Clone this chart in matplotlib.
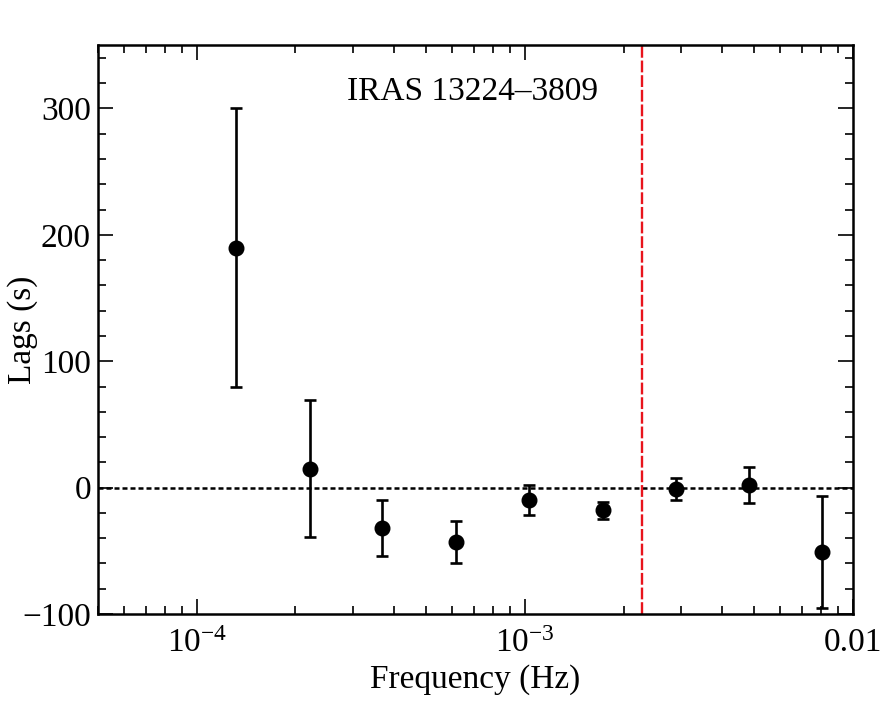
import matplotlib
matplotlib.use("Agg")
import matplotlib.pyplot as plt
from matplotlib.ticker import FixedLocator, FixedFormatter, MultipleLocator, LogLocator, NullFormatter

freq = [1.32e-4, 2.21e-4, 3.67e-4, 6.18e-4, 1.03e-3, 1.73e-3, 2.88e-3, 4.81e-3, 8.03e-3]
lags = [190, 15, -32, -43, -10, -18, -1, 2, -51]
lag_err = [110, 54, 22, 17, 12, 7, 9, 14, 44]
freq_cut = 2.27e-3

plt.rcParams["font.family"] = ["Liberation Serif", "DejaVu Serif"]
plt.rcParams["mathtext.fontset"] = "custom"
plt.rcParams["mathtext.rm"] = "Liberation Serif"
plt.rcParams["mathtext.it"] = "Liberation Serif:italic"

fig = plt.figure(figsize=(8.82, 7.19), dpi=100)
ax = fig.add_axes([0.111, 0.146, 0.856, 0.791])

ax.errorbar(freq, lags, yerr=lag_err, fmt="o", color="black", ms=10.5,
            elinewidth=1.9, capsize=4.5, capthick=1.9, zorder=3)
ax.axhline(0, color="black", ls=(0, (2.0, 1.2)), lw=1.8, zorder=1)
ax.axvline(freq_cut, color="#e8141c", ls=(0, (5, 1.2)), lw=1.7, zorder=2)

ax.set_xscale("log")
ax.set_xlim(5e-5, 0.01)
ax.set_ylim(-100, 350)

ax.xaxis.set_major_locator(FixedLocator([1e-4, 1e-3, 1e-2]))
ax.xaxis.set_major_formatter(FixedFormatter([r"$10^{-4}$", r"$10^{-3}$", "0.01"]))
ax.xaxis.set_minor_locator(LogLocator(base=10, subs=range(2, 10)))
ax.xaxis.set_minor_formatter(NullFormatter())
ax.yaxis.set_major_locator(MultipleLocator(100))
ax.yaxis.set_minor_locator(MultipleLocator(20))

ax.tick_params(which="both", direction="in", top=True, right=True, labelsize=24, width=1.2)
ax.tick_params(which="major", length=11)
ax.tick_params(which="minor", length=6)
ax.tick_params(axis="x", which="major", pad=10)
ax.tick_params(axis="y", which="major", pad=5)
for s in ax.spines.values():
    s.set_linewidth(1.8)

ax.set_xlabel("Frequency (Hz)", fontsize=24)
ax.set_ylabel("Lags (s)", fontsize=24)
ax.yaxis.set_label_coords(-0.08, 0.5)
ax.text(0.33, 0.918, "IRAS 13224\u20133809", transform=ax.transAxes, fontsize=24, va="center")

fig.savefig("out.png", dpi=100)
